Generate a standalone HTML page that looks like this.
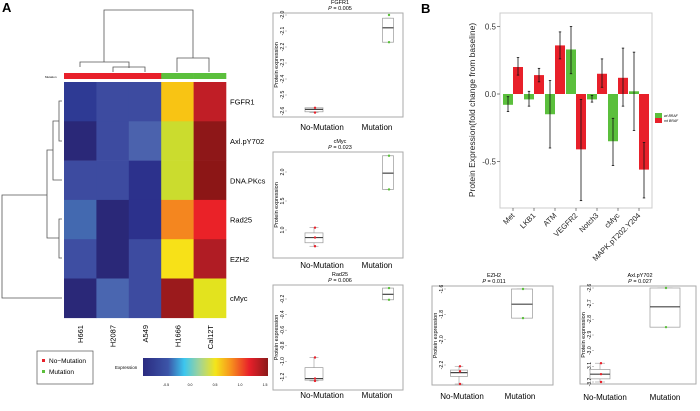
<!DOCTYPE html>
<html><head><meta charset="utf-8"><style>
body{margin:0;background:#fff;width:700px;height:406px;overflow:hidden}
svg{font-family:"Liberation Sans",sans-serif}
</style></head><body>
<svg id="s" width="700" height="406" viewBox="0 0 700 406">
<defs><linearGradient id="cb" x1="0" x2="1" y1="0" y2="0">
<stop offset="0" stop-color="#2b2b80"/><stop offset="0.2" stop-color="#3c55a8"/><stop offset="0.33" stop-color="#3cc6ee"/><stop offset="0.45" stop-color="#9fd39a"/><stop offset="0.58" stop-color="#f4e51a"/><stop offset="0.7" stop-color="#f7941d"/><stop offset="0.85" stop-color="#e8202a"/><stop offset="1" stop-color="#8b1a1a"/></linearGradient></defs>
<text x="2" y="12" font-size="13" font-weight="bold">A</text>
<text x="421" y="13" font-size="13" font-weight="bold">B</text>
<g id="heat"></g>
<g id="dend" fill="none" stroke="#555" stroke-width="0.8">
<path d="M104 62V10H193V58"/><path d="M80 67V62H129V68"/><path d="M113 72V67H145V72"/><path d="M177 72V58H209V72"/>
<path d="M62 101H59V141H62"/><path d="M59 121H53V180H62"/><path d="M62 219H59V258H62"/><path d="M53 150H47V238H59"/><path d="M47 195H2V298H62"/>
</g>
<g>
<rect x="37" y="351" width="56" height="33" fill="#fff" stroke="#555" stroke-width="0.7"/>
<rect x="42" y="359" width="3" height="3" fill="#e8202a"/><text x="49" y="363" font-size="6.5">No−Mutation</text>
<rect x="42" y="370" width="3" height="3" fill="#5bbf3c"/><text x="49" y="374" font-size="6.5">Mutation</text>
</g>
<g>
<text x="115" y="369" font-size="4.5">Expression</text>
<rect x="143" y="358" width="125" height="18" fill="url(#cb)"/>
<g font-size="3.5" text-anchor="middle"><text x="166" y="386">-0.5</text><text x="190" y="386">0.0</text><text x="215" y="386">0.5</text><text x="240" y="386">1.0</text><text x="265" y="386">1.5</text></g>
</g>
<g id="boxes"></g>
<g id="bars"></g>
</svg>
<script>
const NS="http://www.w3.org/2000/svg";
function mk(p,t,a,txt){const e=document.createElementNS(NS,t);for(const k in a)e.setAttribute(k,a[k]);if(txt!==undefined)e.textContent=txt;p.appendChild(e);return e;}
// Heatmap data
const heatRows=["FGFR1","Axl.pY702","DNA.PKcs","Rad25","EZH2","cMyc"];
const heatCols=["H661","H2087","A549","H1666","Cal12T"];
const heatColors=[
["#2e3a94","#3d4ba0","#3d4ba0","#f8c414","#c01e26"],
["#2a2878","#3d4ba0","#4b62ad","#cbdc2e","#8e1718"],
["#3d4ba0","#3d4ba0","#2c318c","#cbdc2e","#8c1616"],
["#4369b0","#2a2878","#2c318c","#f4861f","#ea2228"],
["#3e4ea2","#2a2878","#3d4ba0","#f7e118","#b01c24"],
["#2a2878","#4a66b0","#3d4ba0","#9b1a1c","#e3e31e"]];
const mutGroup=[0,0,0,1,1];
const hg=document.getElementById('heat');
const hx0=64,cw=32.4,hy0=82,rh=39.3;
heatColors.forEach((row,i)=>row.forEach((c,j)=>{const r=mk(hg,'rect',{x:hx0+j*cw,y:hy0+i*rh,width:cw+0.3,height:rh+0.3,fill:c});

}));
heatRows.forEach((n,i)=>{const t=mk(hg,'text',{x:230,y:hy0+i*rh+rh/2+3,'font-size':7.5},n);

});
heatCols.forEach((n,j)=>{const x=hx0+j*cw+cw/2+3;const t=mk(hg,'text',{x:x,y:325,'font-size':7.5,'text-anchor':'end',transform:`rotate(-90 ${x} 325)`},n);

});
mutGroup.forEach((g,j)=>{const r=mk(hg,'rect',{x:hx0+j*cw,y:73,width:cw+0.3,height:6,fill:g?'#5bbf3c':'#e8202a'});

});
mk(hg,'text',{x:45,y:78,'font-size':3},'Mutation');

// Box plot data
const bpTitles=["FGFR1","cMyc","Rad25","EZH2","Axl.pY702"];
const bpP=["0.005","0.023","0.006","0.011","0.027"];
const bpNoMut=[[-2.61,-2.605,-2.59,-2.58,-2.58],[0.72,0.78,0.87,0.95,1.04],[-1.25,-1.24,-1.22,-1.08,-0.95],[-2.35,-2.29,-2.26,-2.24,-2.21],[-3.2,-3.18,-3.15,-3.12,-3.08]];
const bpMut=[[-2.17,-2.17,-2.08,-2.02,-2.02],[1.7,1.7,1.98,2.28,2.28],[-0.21,-0.21,-0.14,-0.06,-0.06],[-1.83,-1.83,-1.72,-1.6,-1.6],[-2.85,-2.85,-2.72,-2.6,-2.6]];
const bpNoMutPts=[[-2.58,-2.61],[1.04,0.87,0.72],[-0.95,-1.22,-1.25],[-2.21,-2.25,-2.35],[-3.08,-3.15,-3.2]];
const bpMutPts=[[-2.0,-2.17],[2.28,1.7],[-0.06,-0.21],[-1.6,-1.83],[-2.6,-2.85]];
const bpTicks=[[-2.0,-2.1,-2.2,-2.3,-2.4,-2.5,-2.6],[2.0,1.5,1.0],[-0.2,-0.4,-0.6,-0.8,-1.0,-1.2],[-1.6,-1.8,-2.0,-2.2],[-2.6,-2.7,-2.8,-2.9,-3.0,-3.1,-3.2]];
const bpLayout=[
{x0:273,x1:403,y0:13,y1:117,va:-2.0,ya:15,vb:-2.6,yb:111,c1:314,c2:388,w1:18,w2:11,lx1:322,lx2:377,ly:130,tx:340,ty:4},
{x0:273,x1:403,y0:152,y1:258,va:2.0,ya:172,vb:1.0,yb:230,c1:314,c2:388,w1:18,w2:11,lx1:322,lx2:377,ly:268,tx:340,ty:143},
{x0:273,x1:403,y0:285,y1:390,va:-0.2,ya:299,vb:-1.2,yb:377,c1:314,c2:388,w1:18,w2:11,lx1:322,lx2:377,ly:398,tx:340,ty:276},
{x0:432,x1:553,y0:286,y1:385,va:-1.6,ya:289,vb:-2.2,yb:365,c1:459,c2:522,w1:17,w2:21,lx1:462,lx2:520,ly:399,tx:494,ty:277},
{x0:580,x1:696,y0:286,y1:384,va:-2.6,ya:288,vb:-3.2,yb:382,c1:600,c2:665,w1:20,w2:30,lx1:605,lx2:665,ly:400,tx:640,ty:277}];
const bg=document.getElementById('boxes');
bpTitles.forEach((title,i)=>{
 const L=bpLayout[i];const y=v=>L.ya+(v-L.va)*(L.yb-L.ya)/(L.vb-L.va);
 const g=mk(bg,'g',{});
 
 
 mk(g,'rect',{x:L.x0,y:L.y0,width:L.x1-L.x0,height:L.y1-L.y0,fill:'none',stroke:'#aaa','stroke-width':1});
 mk(g,'text',{x:L.tx,y:L.ty,'font-size':5.5,'text-anchor':'middle'},title);
 const pt=mk(g,'text',{x:L.tx,y:L.ty+6,'font-size':5.5,'text-anchor':'middle'});
 pt.innerHTML='<tspan font-style="italic">P</tspan> = '+bpP[i];
 bpTicks[i].forEach(v=>{const yy=y(v);mk(g,'line',{x1:L.x0+12,x2:L.x0+14,y1:yy,y2:yy,stroke:'#888','stroke-width':0.5});
  mk(g,'text',{x:L.x0+11,y:yy,'font-size':5,'text-anchor':'middle',transform:`rotate(-90 ${L.x0+11} ${yy})`},v.toFixed(1));});
 const my=(L.y0+L.y1)/2;
 mk(g,'text',{x:L.x0+5,y:my,'font-size':5.5,'text-anchor':'middle',transform:`rotate(-90 ${L.x0+5} ${my})`},'Protein expression');
 [[bpNoMut[i],bpNoMutPts[i],L.c1,L.w1,'#e8202a'],[bpMut[i],bpMutPts[i],L.c2,L.w2,'#5bbf3c']].forEach(([q,pts,c,w,col])=>{
  mk(g,'line',{x1:c,x2:c,y1:y(q[0]),y2:y(q[4]),stroke:'#999','stroke-width':0.6});
  mk(g,'line',{x1:c-w/4,x2:c+w/4,y1:y(q[0]),y2:y(q[0]),stroke:'#999','stroke-width':0.6});
  mk(g,'line',{x1:c-w/4,x2:c+w/4,y1:y(q[4]),y2:y(q[4]),stroke:'#999','stroke-width':0.6});
  mk(g,'rect',{x:c-w/2,y:y(q[3]),width:w,height:Math.max(1,y(q[1])-y(q[3])),fill:'#fff',stroke:'#999','stroke-width':0.7});
  mk(g,'line',{x1:c-w/2,x2:c+w/2,y1:y(q[2]),y2:y(q[2]),stroke:'#444','stroke-width':1.2});
  pts.forEach(v=>mk(g,'circle',{cx:c+1,cy:y(v),r:1.2,fill:col}));
 });
 mk(g,'text',{x:L.lx1,y:L.ly,'font-size':8,'text-anchor':'middle'},'No-Mutation');
 mk(g,'text',{x:L.lx2,y:L.ly,'font-size':8,'text-anchor':'middle'},'Mutation');
});

// Bar chart data
const barCats=["Met","LKB1","ATM","VEGFR2","Notch3","cMyc","MAPK.pT202.Y204"];
const wtVals=[-0.08,-0.04,-0.15,0.33,-0.04,-0.35,0.02];
const wtLo=[-0.13,-0.09,-0.40,0.15,-0.06,-0.53,-0.27];
const wtHi=[-0.02,0.02,0.10,0.50,-0.01,-0.18,0.31];
const mtVals=[0.20,0.14,0.36,-0.41,0.15,0.12,-0.56];
const mtLo=[0.14,0.09,0.26,-0.79,0.05,-0.09,-0.77];
const mtHi=[0.27,0.19,0.46,-0.04,0.26,0.34,-0.36];
const yTicksB=[0.5,0.0,-0.5];
const bG=document.getElementById('bars');
const X0=500,X1=652,Y0=13,Y1=208;
const yB=v=>94-v*135;
const xB=i=>513+i*21;
mk(bG,'rect',{x:X0,y:Y0,width:X1-X0,height:Y1-Y0,fill:'#fff',stroke:'#ccc','stroke-width':1});
yTicksB.forEach(v=>{mk(bG,'line',{x1:X0-3,x2:X0,y1:yB(v),y2:yB(v),stroke:'#333','stroke-width':0.6});
 mk(bG,'text',{x:X0-4,y:yB(v)+3,'font-size':8,'text-anchor':'end','fill':'#333'},v.toFixed(1));});
barCats.forEach((c,i)=>{
 const x=xB(i);
 [[wtVals[i],wtLo[i],wtHi[i],x-10,'#5bbf3c'],[mtVals[i],mtLo[i],mtHi[i],x,'#e8202a']].forEach(([v,lo,hi,bx,col])=>{
  const r=mk(bG,'rect',{x:bx,y:Math.min(yB(v),yB(0)),width:10,height:Math.abs(yB(v)-yB(0)),fill:col});
  
  
  mk(bG,'line',{x1:bx+5,x2:bx+5,y1:yB(lo),y2:yB(hi),stroke:'#111','stroke-width':0.8});
  mk(bG,'line',{x1:bx+3.8,x2:bx+6.2,y1:yB(lo),y2:yB(lo),stroke:'#111','stroke-width':0.8});
  mk(bG,'line',{x1:bx+3.8,x2:bx+6.2,y1:yB(hi),y2:yB(hi),stroke:'#111','stroke-width':0.8});
 });
 mk(bG,'line',{x1:x,x2:x,y1:Y1,y2:Y1+3,stroke:'#333','stroke-width':0.6});
 const t=mk(bG,'text',{x:x+2,y:Y1+8,'font-size':7.5,'text-anchor':'end',fill:'#222',transform:`rotate(-45 ${x+2} ${Y1+8})`},c);
 
 
});
mk(bG,'text',{x:475,y:110,'font-size':8.5,'text-anchor':'middle',fill:'#222',transform:'rotate(-90 475 110)'},'Protein Expression(fold change from baseline)');
const lg=mk(bG,'g',{});


mk(lg,'rect',{x:655,y:113,width:7,height:5,fill:'#5bbf3c'});
mk(lg,'rect',{x:655,y:118,width:7,height:5,fill:'#e8202a'});
mk(lg,'text',{x:664,y:117,'font-size':3.5,'font-style':'italic'},'wt BRAF');
mk(lg,'text',{x:664,y:122,'font-size':3.5,'font-style':'italic'},'mt BRAF');
</script>
</body></html>
